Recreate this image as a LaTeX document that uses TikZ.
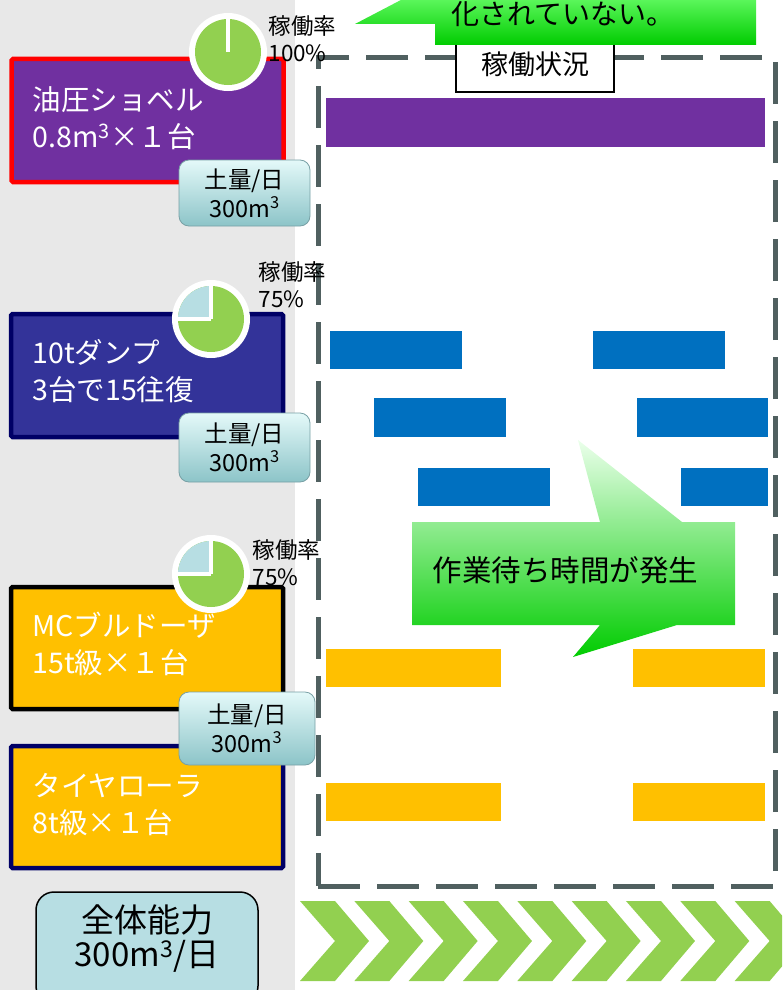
\documentclass[tikz,border=0pt]{standalone}
\usepackage{fontspec}
\setmainfont{Noto Sans CJK JP}
\definecolor{panelgray}{RGB}{232,232,232}
\definecolor{dashgray}{RGB}{80,96,96}
\definecolor{shovel}{RGB}{112,48,160}
\definecolor{dumpblue}{RGB}{51,51,153}
\definecolor{navyedge}{RGB}{0,0,102}
\definecolor{barblue}{RGB}{0,112,192}
\definecolor{gold}{RGB}{255,192,0}
\definecolor{leaf}{RGB}{146,208,80}
\definecolor{paleblue}{RGB}{183,222,227}
\definecolor{cgreen}{RGB}{0,204,0}
\definecolor{cpale}{RGB}{235,255,235}
\definecolor{cmid}{RGB}{100,255,100}
\definecolor{ctop}{RGB}{110,255,110}
\definecolor{soiltop}{RGB}{228,249,249}
\definecolor{soilbot}{RGB}{140,196,200}
\definecolor{soiledge}{RGB}{120,160,165}
\begin{document}
\begin{tikzpicture}[x=1pt,y=-1pt,
  machine/.style={rectangle, rounded corners=1.5pt, line width=4.5pt, minimum width=272pt, inner sep=0pt},
  machtext/.style={anchor=west, align=left, text=white, font=\fontsize{28.5}{37}\selectfont},
  bar/.style={rectangle, inner sep=0pt, outer sep=0pt},
  pieframe/.style={circle, fill=white, minimum size=78pt, inner sep=0pt},
  ratelabel/.style={anchor=west, align=left, font=\fontsize{22.5}{27}\selectfont},
  soilbox/.style={rectangle, rounded corners=10pt, draw=soiledge, line width=0.8pt, top color=soiltop, bottom color=soilbot, align=center, inner sep=0pt, font=\fontsize{23.5}{29}\selectfont},
  chevron/.style={fill=leaf}
]
\useasboundingbox (0,0) rectangle (782,990);
\begin{scope}
\clip (0,0) rectangle (782,990);
% background panel
\fill[panelgray] (0,0) rectangle (295,990);
% dashed frame
\node[draw=dashgray, line width=5pt, dash pattern=on 42pt off 17pt, minimum width=457pt, minimum height=828pt, inner sep=0pt] (frame) at (546.5,472) {};
% bars
\node[bar, fill=shovel, minimum width=439pt, minimum height=49pt] (pbar) at (545.5,122.5) {};
\node[bar, fill=barblue, minimum width=132pt, minimum height=38pt] (b1a) at (396,350) {};
\node[bar, fill=barblue, minimum width=132pt, minimum height=38pt] (b1b) at (659,350) {};
\node[bar, fill=barblue, minimum width=132pt, minimum height=39pt] (b2a) at (440,417.5) {};
\node[bar, fill=barblue, minimum width=131pt, minimum height=39pt] (b2b) at (702.5,417.5) {};
\node[bar, fill=barblue, minimum width=132pt, minimum height=38pt] (b3a) at (484,487) {};
\node[bar, fill=barblue, minimum width=87pt, minimum height=38pt] (b3b) at (724.5,487) {};
\node[bar, fill=gold, minimum width=175pt, minimum height=38pt] (y1a) at (413.5,668) {};
\node[bar, fill=gold, minimum width=132pt, minimum height=38pt] (y1b) at (699,668) {};
\node[bar, fill=gold, minimum width=175pt, minimum height=38pt] (y2a) at (413.5,802) {};
\node[bar, fill=gold, minimum width=132pt, minimum height=38pt] (y2b) at (699,802) {};
% status label
\node[draw=black, fill=white, line width=1.5pt, minimum width=158pt, minimum height=55pt, inner sep=0pt, font=\fontsize{27}{30}\selectfont] (status) at (535,64.5) {稼働状況};
% machine boxes
\node[machine, draw=red, fill=shovel, minimum height=123pt] (shovelbox) at (147.5,120.5) {};
\node[machtext] (shoveltext) at (29,118.5) {油圧ショベル\\0.8m\textsuperscript{3}×１台};
\node[machine, draw=navyedge, fill=dumpblue, minimum height=123pt] (dumpbox) at (147,375.5) {};
\node[machtext] (dumptext) at (29,371) {10tダンプ\\3台で15往復};
\node[machine, draw=black, fill=gold, minimum height=122pt] (dozerbox) at (147,648) {};
\node[machtext] (dozertext) at (29,644) {MCブルドーザ\\15t級×１台};
\node[machine, draw=navyedge, fill=gold, minimum height=122pt] (rollerbox) at (147,807) {};
\node[machtext] (rollertext) at (29,805) {タイヤローラ\\8t級×１台};
% pies
\node[pieframe] (pie1) at (228,52) {};
\fill[leaf] (pie1.center) circle (33pt);
\draw[white, line width=4pt] (pie1.center) -- ++(0pt,34pt);
\node[pieframe] (pie2) at (211,319) {};
\fill[leaf] (pie2.center) circle (33pt);
\fill[paleblue] (pie2.center) -- ++(0pt,33pt) arc[start angle=90, end angle=180, radius=33pt] -- cycle;
\draw[white, line width=4pt] (pie2.center) -- ++(0pt,34pt) (pie2.center) -- ++(-34pt,0pt);
\node[pieframe] (pie3) at (211,574) {};
\fill[leaf] (pie3.center) circle (33pt);
\fill[paleblue] (pie3.center) -- ++(0pt,33pt) arc[start angle=90, end angle=180, radius=33pt] -- cycle;
\draw[white, line width=4pt] (pie3.center) -- ++(0pt,34pt) (pie3.center) -- ++(-34pt,0pt);
\node[ratelabel] (rate1) at (265,38.5) {稼働率\\100\%};
\node[ratelabel] (rate2) at (255,284.5) {稼働率\\75\%};
\node[ratelabel] (rate3) at (249,563) {稼働率\\75\%};
% soil boxes
\node[soilbox, minimum width=131pt, minimum height=66pt] (soil1) at (244.5,193) {土量/日\\300m\textsuperscript{3}};
\node[soilbox, minimum width=131pt, minimum height=69pt] (soil2) at (244.5,447.5) {土量/日\\300m\textsuperscript{3}};
\node[soilbox, minimum width=136pt, minimum height=73pt] (soil3) at (247,728.5) {土量/日\\300m\textsuperscript{3}};
% total capacity
\node[draw=black, line width=1.5pt, fill=paleblue, rounded corners=18pt, minimum width=222pt, minimum height=112pt, inner sep=0pt] (totalbox) at (147,948) {};
\node[align=center, font=\fontsize{33}{34}\selectfont] (totaltext) at (147,938.5) {全体能力\\300m\textsuperscript{3}/日};
% chevrons
\foreach \i in {0,...,8} {
  \fill[chevron, xshift=\i*54.33pt] (300,901) -- (335,901) -- (369,941) -- (335,981) -- (300,981) -- (335,941) -- cycle;
}
% top callout
\path[top color=ctop, bottom color=cgreen] (355,24) -- (420,-10) -- (756,-10) -- (756,45) -- (435,45) -- (435,24) -- cycle;
\node[font=\fontsize{28}{30}\selectfont] (toptext) at (563,14) {化されていない。};
% big callout
\path[top color=cpale, middle color=cmid, bottom color=cgreen] (412,522) -- (600,522) -- (578,440) -- (682,522) -- (735,522) -- (735,625) -- (677,625) -- (573,657) -- (600,625) -- (412,625) -- cycle;
\node[font=\fontsize{29.5}{30}\selectfont] (waittext) at (565.5,570) {作業待ち時間が発生};
\end{scope}
\end{tikzpicture}
\end{document}
